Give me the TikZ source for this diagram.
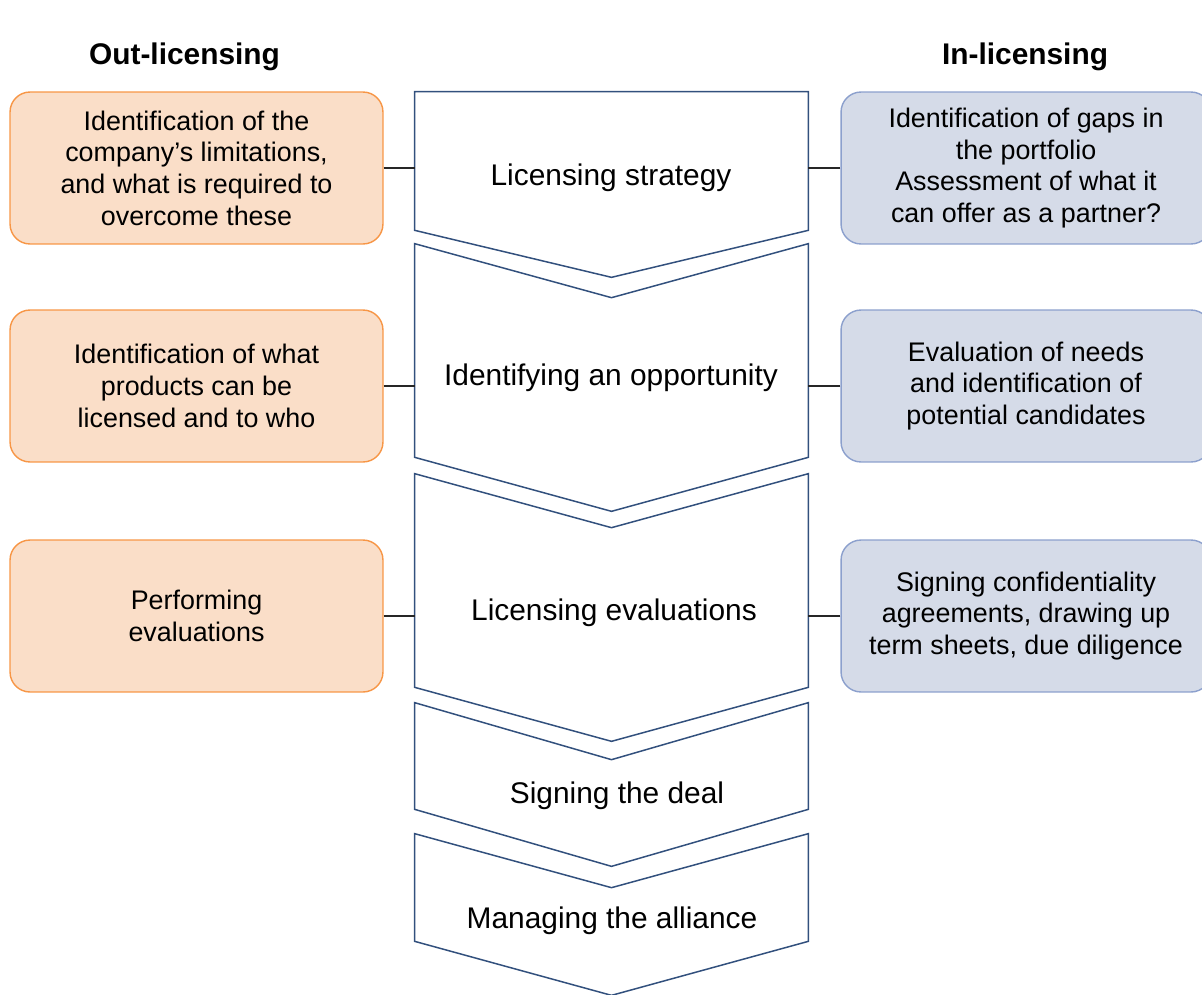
\documentclass[tikz,border=0pt]{standalone}
\usepackage{fontspec}
\setmainfont{Liberation Sans}
\usetikzlibrary{calc}

\definecolor{outfill}{RGB}{250,222,200}
\definecolor{outdraw}{RGB}{247,150,70}
\definecolor{infill}{RGB}{213,219,232}
\definecolor{indraw}{RGB}{140,160,205}
\definecolor{stepdraw}{RGB}{50,80,125}

\tikzset{
	every node/.style={font=\fontsize{17}{18}\selectfont},
	heading/.style={anchor=base,font=\fontsize{17}{18}\selectfont\bfseries},
	outbox/.style={draw=outdraw,fill=outfill,line width=0.8pt,rounded corners=0.4cm,
		minimum width=7.46cm,minimum height=3.04cm,align=center,font=\fontsize{15.3}{18}\selectfont},
	inbox/.style={draw=indraw,fill=infill,line width=0.8pt,rounded corners=0.4cm,
		minimum width=7.4cm,minimum height=3.04cm,align=center,font=\fontsize{15.3}{18}\selectfont},
	stepframe/.style={minimum width=7.86cm,inner sep=0pt},
	steptext/.style={anchor=base},
	stepline/.style={draw=stepdraw,line width=0.85pt,line join=miter},
	link/.style={draw=black!85,line width=0.6pt}
}

\begin{document}
\begin{tikzpicture}[x=0.02cm,y=0.02cm]
	\useasboundingbox (0,0) rectangle (1202,-994);
	% column headings
	\node[heading] (outhead) at (184.5,-64) {Out-licensing};
	\node[heading] (inhead) at (1025,-64) {In-licensing};
	% rectangular part of each step
	\node[stepframe,minimum height=2.76cm] (strategy) at (611.5,-161) {};
	\node[stepframe,minimum height=4.26cm] (opportunity) at (611.5,-350.5) {};
	\node[stepframe,minimum height=4.26cm] (evaluation) at (611.5,-580.5) {};
	\node[stepframe,minimum height=2.12cm] (deal) at (611.5,-756) {};
	\node[stepframe,minimum height=2.14cm] (alliance) at (611.5,-887.5) {};
	% chevrons: first one has a flat top
	\draw[stepline] (strategy.north west) -- (strategy.north east) -- (strategy.south east)
		-- ($(strategy.south)+(0,-47)$) -- (strategy.south west) -- cycle;
	\foreach \s/\d in {opportunity/54,evaluation/54,deal/57,alliance/54}
	\draw[stepline] (\s.north west) -- ($(\s.north)+(0,-\d)$) -- (\s.north east) -- (\s.south east)
		-- ($(\s.south)+(0,-\d)$) -- (\s.south west) -- cycle;
	% step labels
	\node[steptext] (strategytxt) at (611,-185) {Licensing strategy};
	\node[steptext] (opportunitytxt) at (611,-385) {Identifying an opportunity};
	\node[steptext] (evaluationtxt) at (614,-620) {Licensing evaluations};
	\node[steptext] (dealtxt) at (617,-803) {Signing the deal};
	\node[steptext] (alliancetxt) at (612,-928) {Managing the alliance};
	% out-licensing side
	\node[outbox] (out1) at (196.5,-168) {Identification of the\\company’s limitations,\\and what is required to\\overcome these};
	\node[outbox] (out2) at (196.5,-386) {Identification of what\\products can be\\licensed and to who};
	\node[outbox] (out3) at (196.5,-616) {Performing\\evaluations};
	% in-licensing side
	\node[inbox] (in1) at (1026,-168) {Identification of gaps in\\the portfolio\\Assessment of what it\\can offer as a partner?};
	\node[inbox] (in2) at (1026,-386) {Evaluation of needs\\and identification of\\potential candidates};
	\node[inbox] (in3) at (1026,-616) {Signing confidentiality\\agreements, drawing up\\term sheets, due diligence};
	% connectors
	\foreach \s/\n in {strategy/1,opportunity/2,evaluation/3}{
		\draw[link] (out\n.east) -- (out\n.east -| \s.west);
		\draw[link] (in\n.west) -- (in\n.west -| \s.east);
	}
\end{tikzpicture}
\end{document}
